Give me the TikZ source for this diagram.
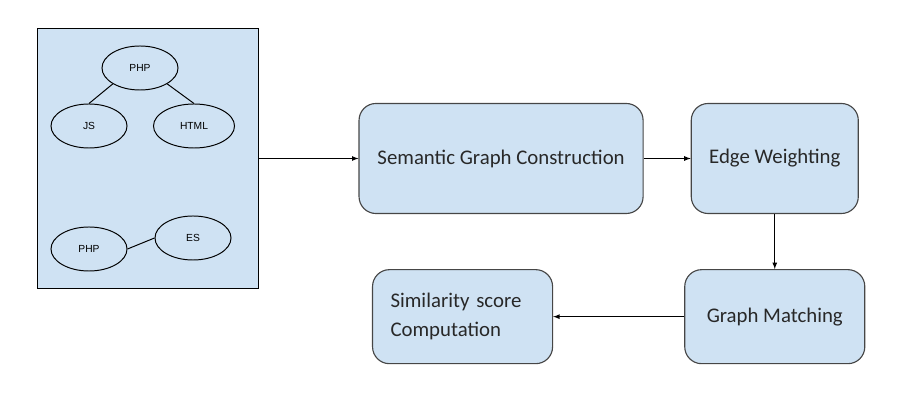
\documentclass[tikz,border=0pt]{standalone}
\usepackage{fontspec}
\setmainfont{Carlito}
\newfontfamily\tagfont{Liberation Sans}
\usepackage{tikz}
\usetikzlibrary{arrows,shapes,positioning}
\definecolor{gdblue}{RGB}{207,226,243}
\definecolor{gdgray}{RGB}{70,70,70}
\definecolor{gdtext}{RGB}{40,40,40}
\tikzstyle{stage} = [rectangle, rounded corners=12pt, minimum height=2.75cm, text centered, draw=gdgray, fill=gdblue, line width=0.8pt, text=gdtext, font=\fontsize{14.8}{21}\selectfont]
\tikzstyle{tag} = [ellipse, minimum width=1.9cm, minimum height=1.1cm, draw=black, line width=0.7pt, font=\tagfont\fontsize{7.3}{9}\selectfont]
\tikzstyle{link} = [line width=0.7pt]
\tikzstyle{arrow} = [line width=0.6pt,->,>=latex]

\begin{document}
\begin{tikzpicture}[x=0.025cm, y=-0.025cm]
\useasboundingbox (0,0) rectangle (900,405);
% Input graphs
\node[draw=black, fill=gdblue, line width=0.6pt, minimum width=5.525cm, minimum height=6.5cm] (src) at (147.5,158.5) {};
\node[tag] (php) at (140,68) {PHP};
\node[tag] (js) at (89,126) {JS};
\node[tag, minimum width=2.025cm] (html) at (194,126) {HTML};
\node[tag] (phpb) at (89,249) {PHP};
\node[tag] (es) at (193,238) {ES};

\draw[link] (php.south west) -- (js.north);
\draw[link] (php.south east) -- (html.north);
\draw[link] (phpb.east) -- (es.west);

% Pipeline
\node[stage, minimum width=7.1cm, right=2.5cm of src] (sgc) {Semantic Graph Construction};
\node[stage, minimum width=4.175cm, right=1.175cm of sgc] (edgew) {Edge Weighting};
\node[stage, minimum width=4.5cm, minimum height=2.35cm, below=1.375cm of edgew] (gmatch) {Graph Matching};
\node[stage, minimum width=4.5cm, minimum height=2.35cm, text width=3.6cm, align=left, inner xsep=0.45cm, left=3.275cm of gmatch] (simscore) {Similarity score\\Computation};

\draw[arrow] (src) -- (sgc);
\draw[arrow] (sgc) -- (edgew);
\draw[arrow] (edgew) -- (gmatch);
\draw[arrow] (gmatch) -- (simscore);
\end{tikzpicture}
\end{document}
